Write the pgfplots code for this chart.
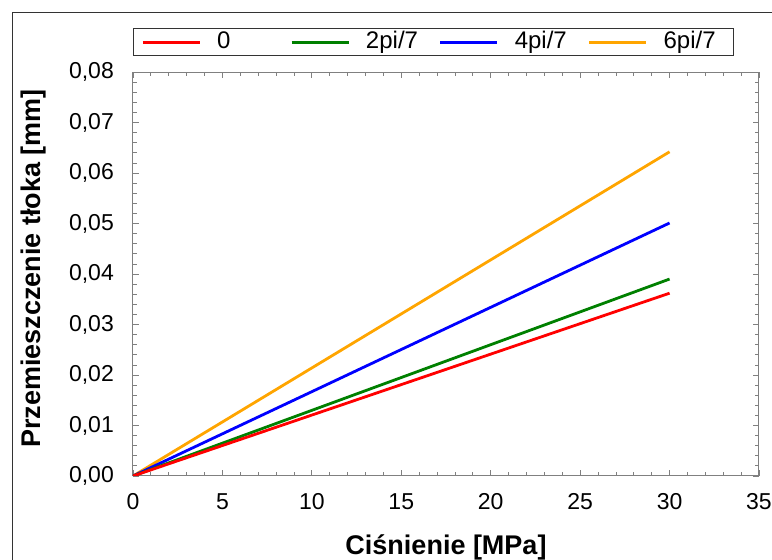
\documentclass[border=0pt]{standalone}
\usepackage{fontspec}
\setmainfont{Liberation Sans}
\usepackage{pgfplots}
\pgfplotsset{compat=1.18}

\definecolor{lred}{RGB}{255,0,0}
\definecolor{lgreen}{RGB}{0,128,0}
\definecolor{lblue}{RGB}{0,0,255}
\definecolor{lorange}{RGB}{255,165,0}
\definecolor{axgray}{RGB}{128,128,128}

\begin{document}
\begin{tikzpicture}[x=1pt,y=1pt]
\useasboundingbox (0,0) rectangle (772,560);
\draw[line width=1pt, black!80] (12,-20) rectangle (800,547);
\begin{axis}[
  at={(133pt,84pt)}, anchor=south west,
  scale only axis,
  width=626pt, height=404pt,
  xmin=0, xmax=35, ymin=0, ymax=0.08,
  xtick={0,5,10,15,20,25,30,35},
  ytick={0,0.01,0.02,0.03,0.04,0.05,0.06,0.07,0.08},
  minor tick num=4,
  tick align=inside,
  major tick length=6pt, minor tick length=4pt,
  axis line style={axgray, line width=1pt},
  every tick/.style={axgray, line width=0.8pt},
  /pgf/number format/assume math mode=true,
  ticklabel style={font=\fontsize{23}{23}\selectfont, inner sep=0pt},
  xticklabel style={anchor=north, yshift=-17pt,
    /pgf/number format/.cd, fixed, precision=0},
  yticklabel style={anchor=east, xshift=-19pt,
    /pgf/number format/.cd, fixed, fixed zerofill, precision=2, use comma},
  scaled y ticks=false,
  xlabel={\bfseries Ciśnienie [MPa]},
  ylabel={\bfseries Przemieszczenie tłoka [mm]},
  label style={font=\fontsize{27}{27}\selectfont},
  xlabel style={at={(axis description cs:0.5,-0.1955)}, anchor=base},
  ylabel style={at={(axis description cs:-0.1597,0.5136)}, anchor=center},
  legend columns=4,
  reverse legend,
  legend image code/.code={\draw[#1] (0pt,0pt) -- (57pt,0pt);},
  legend style={
    at={(0,1)}, anchor=south west, yshift=16pt,
    draw=black!80, line width=0.8pt,
    inner xsep=8pt, inner ysep=1pt,
    font=\fontsize{24}{24}\selectfont,
    nodes={inner sep=2pt, text height=17pt, text depth=4pt},
    /tikz/every odd column/.append style={column sep=14pt},
    /tikz/every even column/.append style={column sep=13pt},
  },
  legend cell align=left,
]
\addplot[lorange, line width=2.8pt] coordinates {(0,0) (30,0.0642)};
\addlegendentry{\makebox[60pt][l]{6pi/7}}
\addplot[lblue, line width=2.8pt] coordinates {(0,0) (30,0.0501)};
\addlegendentry{\makebox[58pt][l]{4pi/7}}
\addplot[lgreen, line width=2.8pt] coordinates {(0,0) (30,0.0390)};
\addlegendentry{\makebox[58pt][l]{2pi/7}}
\addplot[lred, line width=2.8pt] coordinates {(0,0) (30,0.0362)};
\addlegendentry{\makebox[58pt][l]{0}}
\end{axis}
\end{tikzpicture}
\end{document}
